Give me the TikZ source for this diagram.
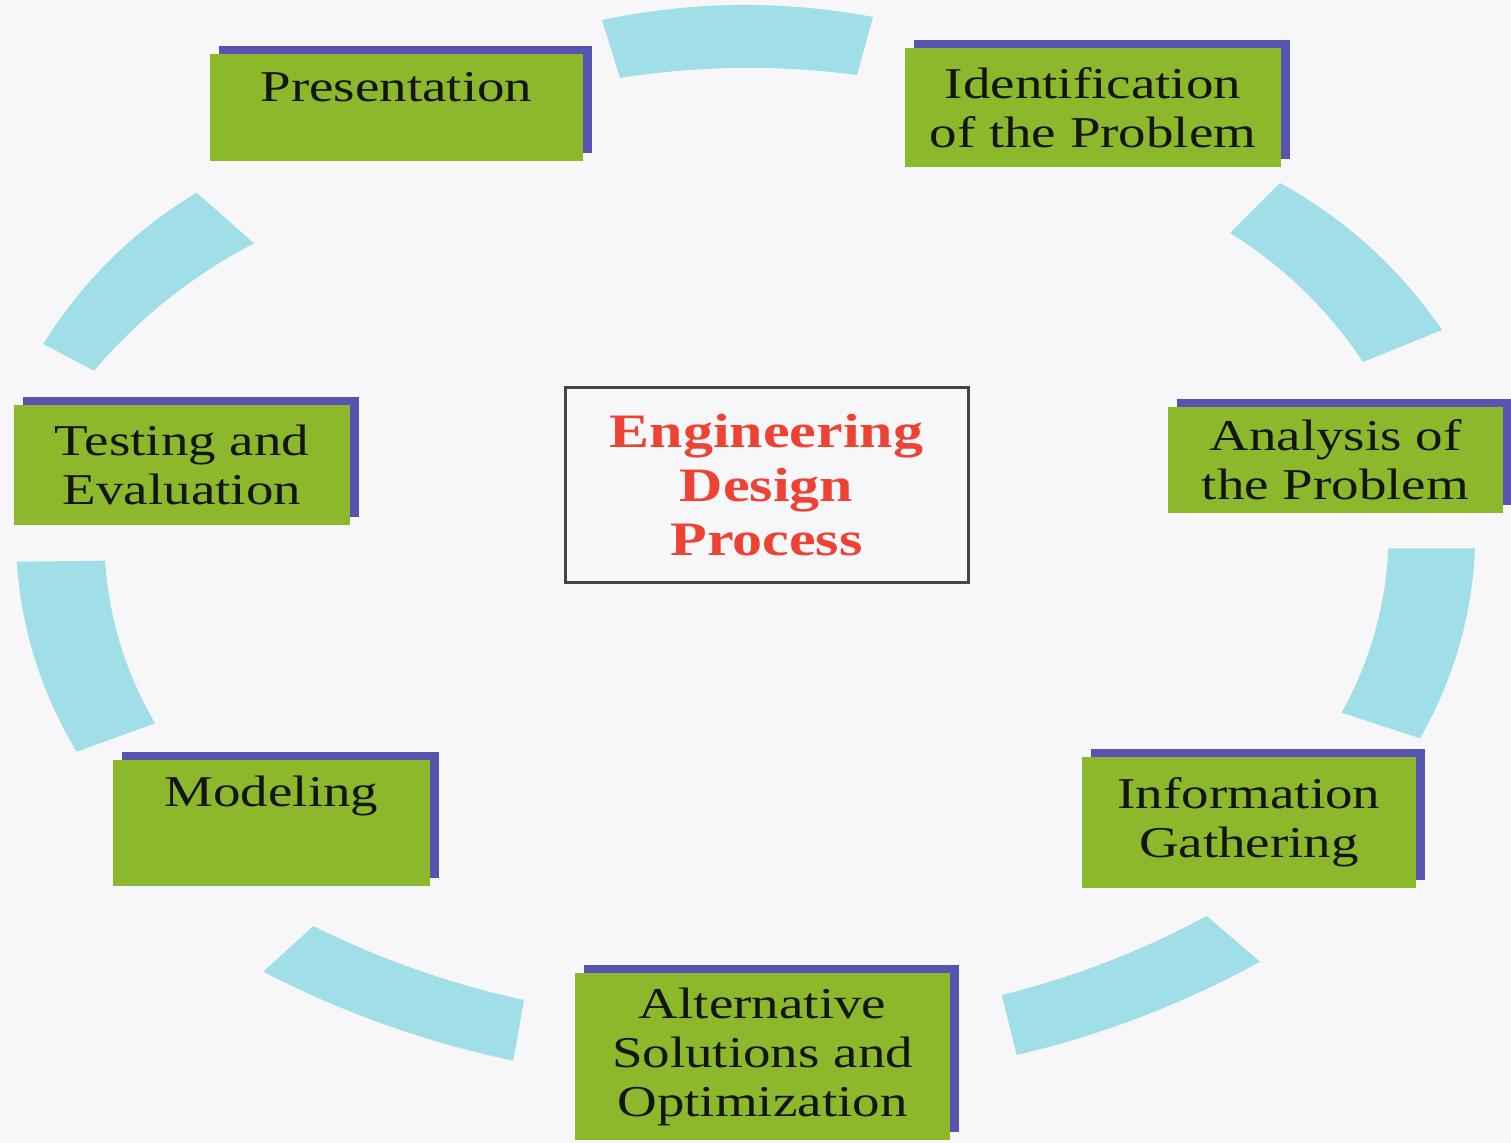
\documentclass[tikz,border=0pt]{standalone}
\usepackage{fontspec}
\usetikzlibrary{shadows,calc}
% Times-metric serif, widened a little
\newfontfamily\stagefont[FakeStretch=1.25]{Liberation Serif}

\definecolor{paper}{RGB}{247,247,249}
\definecolor{stagegreen}{RGB}{140,184,44}
\definecolor{stageshadow}{RGB}{86,84,176}
\definecolor{ringcyan}{RGB}{160,222,232}
\definecolor{titlered}{RGB}{238,66,52}
\definecolor{ink}{RGB}{20,20,16}
\definecolor{frame}{RGB}{70,70,70}

% one curved piece of the ring: outer edge o1 -> o2 (quadratic control qo),
% inner edge i2 -> i1 (quadratic control qi), straight ends
\newcommand\ringpiece[6]{%
  \fill[ring] #1 .. controls ($#1!2/3!#2$) and ($#3!2/3!#2$) .. #3
    -- #4 .. controls ($#4!2/3!#5$) and ($#6!2/3!#5$) .. #6 -- cycle;}

\begin{document}
\begin{tikzpicture}[x=0.5pt,y=-0.5pt,
  stage/.style={fill=stagegreen, inner sep=0pt, align=center, text=ink,
    font=\stagefont\fontsize{22}{24.5}\selectfont,
    general shadow={fill=stageshadow, shadow xshift=4.5pt, shadow yshift=4pt}},
  ring/.style={fill=ringcyan},
  title/.style={draw=frame, line width=1.5pt, inner sep=0pt, align=center,
    text=titlered, font=\stagefont\bfseries\fontsize{24}{27}\selectfont}]

% page
\useasboundingbox (0,0) rectangle (1511,1143);
\fill[paper] (0,0) rectangle (1511,1143);

% broken ring of arc segments behind the stages
\ringpiece{(602,20)}{(737.5,-8.5)}{(873,17)}{(857,75)}{(738.5,59.3)}{(620,78)}
\ringpiece{(1280,183)}{(1378.4,237.3)}{(1442,330)}{(1363,362)}{(1310.5,283.1)}{(1230,233)}
\ringpiece{(1475,548.3)}{(1470.6,649.5)}{(1420,738.3)}{(1341.7,712.7)}{(1384.2,635.9)}{(1388.3,548.3)}
\ringpiece{(1260,961.7)}{(1144.7,1025.1)}{(1016.7,1055)}{(1001.7,995)}{(1109.2,968.6)}{(1206.7,916)}
\ringpiece{(513.3,1060.7)}{(382.3,1033.2)}{(263.3,971.7)}{(313.3,926)}{(414.1,976.2)}{(524,1000)}
\ringpiece{(76.7,751.7)}{(23.8,663.9)}{(16.7,561.7)}{(105,560.7)}{(111,647.9)}{(155,723.3)}
\ringpiece{(43.3,344)}{(101.9,249.8)}{(196.7,192.7)}{(254,243.3)}{(161.6,291.4)}{(94,370.7)}

% the seven stages
\node[stage, minimum width=186.5pt, minimum height=53.5pt,
      text height=24pt, text depth=29.5pt] (present) at (396.5,107.5) {Presentation};
\node[stage, minimum width=188pt, minimum height=59.5pt] (ident) at (1093,107.5)
  {Identification\\of the Problem};
\node[stage, minimum width=167.5pt, minimum height=53pt] (analysis) at (1335.5,460)
  {Analysis of\\the Problem};
\node[stage, minimum width=167pt, minimum height=65.5pt] (info) at (1249,822.5)
  {Information\\Gathering};
\node[stage, minimum width=187.5pt, minimum height=83.5pt] (alt) at (762.5,1056.5)
  {Alternative\\Solutions and\\Optimization};
\node[stage, minimum width=158.5pt, minimum height=63pt,
      text height=23.5pt, text depth=39.5pt] (model) at (271.5,823) {Modeling};
\node[stage, minimum width=168pt, minimum height=60pt] (test) at (182,465)
  {Testing and\\Evaluation};

% centre title
\node[title, minimum width=201.5pt, minimum height=97.5pt] (edp) at (766.5,485.5)
  {Engineering\\Design\\Process};
\end{tikzpicture}
\end{document}
